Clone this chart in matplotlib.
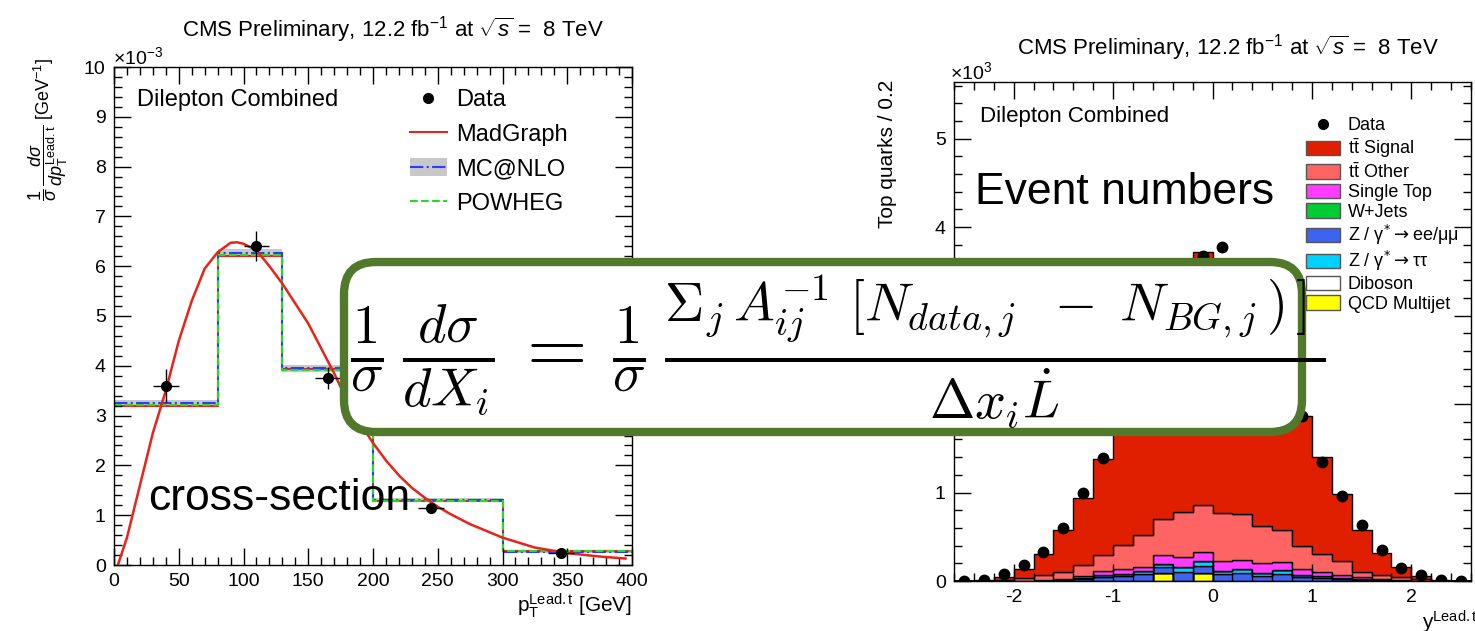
import numpy as np
import matplotlib
matplotlib.use('Agg')
import matplotlib.pyplot as plt
from matplotlib.patches import FancyBboxPatch, Patch
from matplotlib.lines import Line2D
from matplotlib.ticker import MultipleLocator

plt.rcParams['font.family'] = ['Liberation Sans', 'DejaVu Sans']
plt.rcParams['mathtext.fontset'] = 'custom'
plt.rcParams['mathtext.rm'] = 'Liberation Sans'
plt.rcParams['mathtext.it'] = 'Liberation Sans:italic'
plt.rcParams['mathtext.bf'] = 'Liberation Sans:bold'
plt.rcParams['axes.unicode_minus'] = False

# ---------------- left panel data (x 1e-3) ----------------
pt_edges = [0, 80, 130, 200, 300, 400]
madgraph_hist = [3.20, 6.20, 3.93, 1.28, 0.28]
mcatnlo_hist = [3.25, 6.27, 3.95, 1.30, 0.27]
powheg_hist = [3.22, 6.22, 3.92, 1.29, 0.29]
mcatnlo_unc = [0.07, 0.08, 0.07, 0.04, 0.02]
data_pt_x = [40, 110, 165, 245, 345]
data_pt_y = [3.60, 6.40, 3.75, 1.15, 0.25]
data_pt_yerr = [0.33, 0.30, 0.22, 0.08, 0.05]
data_pt_xerr = [10, 10, 10, 10, 10]
mg_curve_x = [3, 10, 20, 30, 40, 50, 60, 70, 80, 90, 95, 100, 110, 120, 130, 140, 150,
              160, 170, 180, 190, 200, 210, 220, 230, 240, 250, 260, 275, 300, 325, 350, 375, 395]
mg_curve_y = [0.0, 0.55, 1.6, 2.65, 3.5, 4.5, 5.3, 5.95, 6.28, 6.47, 6.48, 6.45, 6.32, 6.0, 5.65,
              5.25, 4.85, 4.35, 3.85, 3.3, 2.85, 2.45, 2.1, 1.8, 1.55, 1.35, 1.17, 1.02, 0.82,
              0.55, 0.35, 0.24, 0.17, 0.13]

# ---------------- right panel data (x 1e3) ----------------
y_edges = [-2.6, -2.4, -2.2, -2.0, -1.8, -1.6, -1.4, -1.2, -1.0, -0.8, -0.6, -0.4, -0.2, 0.0,
           0.2, 0.4, 0.6, 0.8, 1.0, 1.2, 1.4, 1.6, 1.8, 2.0, 2.2, 2.4, 2.6]
qcd = [0, 0, 0, 0, 0, 0, 0, 0, 0, 0, 0.09, 0, 0.09, 0, 0, 0, 0, 0, 0, 0, 0, 0, 0, 0, 0, 0]
diboson = [0, 0, 0, 0, 0, 0.001, 0.002, 0.003, 0.004, 0.004, 0.004, 0.005, 0.005, 0.005,
           0.005, 0.004, 0.004, 0.004, 0.003, 0.002, 0.001, 0, 0, 0, 0, 0]
z_eemumu = [0, 0, 0, 0.002, 0.004, 0.01, 0.02, 0.04, 0.05, 0.07, 0.06, 0.10, 0.08, 0.07,
            0.08, 0.055, 0.075, 0.045, 0.035, 0.025, 0.012, 0.006, 0.003, 0, 0, 0]
z_tautau = [0, 0, 0, 0.001, 0.002, 0.005, 0.01, 0.02, 0.025, 0.035, 0.04, 0.05, 0.05, 0.035,
            0.045, 0.03, 0.04, 0.02, 0.015, 0.01, 0.006, 0.003, 0.001, 0, 0, 0]
wjets = [0, 0, 0, 0, 0, 0, 0.001, 0.002, 0.002, 0.002, 0.002, 0.003, 0.003, 0.003, 0.003,
         0.002, 0.002, 0.002, 0.002, 0.001, 0, 0, 0, 0, 0, 0]
single_top = [0, 0, 0, 0.002, 0.004, 0.006, 0.022, 0.045, 0.06, 0.05, 0.095, 0.11, 0.10,
              0.11, 0.11, 0.11, 0.09, 0.06, 0.042, 0.033, 0.021, 0.011, 0.006, 0, 0, 0]
tt_other = [0, 0.005, 0.012, 0.025, 0.06, 0.085, 0.125, 0.18, 0.27, 0.362, 0.41, 0.51, 0.53,
            0.545, 0.515, 0.42, 0.36, 0.26, 0.205, 0.15, 0.065, 0.05, 0.035, 0.02, 0.005, 0]
tt_signal = [0, 0.005, 0.028, 0.11, 0.24, 0.47, 0.76, 1.09, 1.45, 1.88, 2.25, 2.60, 2.86,
             2.83, 2.62, 2.33, 1.85, 1.47, 1.10, 0.76, 0.475, 0.25, 0.115, 0.04, 0.005, 0]
data_y = [0.0, 0.01, 0.075, 0.18, 0.33, 0.60, 0.99, 1.385, 1.85, 2.40, 2.95, 3.40, 3.67,
          3.78, 3.40, 2.95, 2.45, 1.87, 1.34, 0.96, 0.63, 0.35, 0.15, 0.07, 0.01, 0.0]

# stacking order, bottom -> top
stack = [
    ("QCD Multijet", qcd, '#FFFF00'),
    ("Diboson", diboson, '#FFFFFF'),
    (r"Z / γ$^{*}$$\rightarrow$ee/μμ", z_eemumu, '#3C64F0'),
    (r"Z / γ$^{*}$$\rightarrow$ττ", z_tautau, '#00D2FF'),
    ("W+Jets", wjets, '#00CC33'),
    ("Single Top", single_top, '#FF3CFF'),
    (r"t$\bar{\rm t}$ Other", tt_other, '#FF6464'),
    (r"t$\bar{\rm t}$ Signal", tt_signal, '#E01E00'),
]
legend_order = [7, 6, 5, 4, 2, 3, 1, 0]

W, H = 1475, 631
fig = plt.figure(figsize=(W / 100, H / 100), dpi=100)


def fx(px):
    return px / W


def fy(py):
    return (H - py) / H


def style_axis(ax, xmaj, xmin, ymaj, ymin, lsize):
    ax.xaxis.set_major_locator(MultipleLocator(xmaj))
    ax.xaxis.set_minor_locator(MultipleLocator(xmin))
    ax.yaxis.set_major_locator(MultipleLocator(ymaj))
    ax.yaxis.set_minor_locator(MultipleLocator(ymin))
    ax.tick_params(which='both', direction='in', top=True, right=True, width=1)
    ax.tick_params(which='major', length=12, labelsize=lsize, pad=6)
    ax.tick_params(which='minor', length=6)
    for s in ax.spines.values():
        s.set_linewidth(1)


# ---------------- left panel ----------------
ax1 = fig.add_axes([fx(114), fy(565), fx(632 - 114), (565 - 67) / H])
lo = [v - u for v, u in zip(mcatnlo_hist, mcatnlo_unc)]
hi = [v + u for v, u in zip(mcatnlo_hist, mcatnlo_unc)]
ax1.stairs(hi, pt_edges, baseline=lo, fill=True, color='#c8c8c8', lw=0)
ax1.stairs(madgraph_hist, pt_edges, baseline=None, color='#e8231a', lw=1.5)
ax1.stairs(mcatnlo_hist, pt_edges, baseline=None, color='#2a3cff', lw=1.5, ls='-.')
ax1.stairs(powheg_hist, pt_edges, baseline=None, color='#22dd22', lw=1.5, ls='--')
ax1.plot(mg_curve_x, mg_curve_y, color='#e8231a', lw=1.8)
ax1.errorbar(data_pt_x, data_pt_y, xerr=data_pt_xerr, yerr=data_pt_yerr, fmt='o',
             color='black', ms=7, elinewidth=1.0, capsize=0)
ax1.set_xlim(0, 400)
ax1.set_ylim(0, 10)
style_axis(ax1, 50, 10, 1, 0.2, 14)
ax1.text(0.044, 0.934, "Dilepton Combined", transform=ax1.transAxes, fontsize=17,
         va='center', ha='left')
h_data = Line2D([], [], marker='o', color='black', ls='none', ms=7)
h_mg = Line2D([], [], color='#e8231a', lw=1.5)
h_mc = (Patch(facecolor='#c8c8c8', edgecolor='none'),
        Line2D([], [], color='#2a3cff', lw=1.5, ls='-.'))
h_pw = Line2D([], [], color='#22dd22', lw=1.5, ls='--')
ax1.legend([h_data, h_mg, h_mc, h_pw], ["Data", "MadGraph", "MC@NLO", "POWHEG"],
           loc='upper left', bbox_to_anchor=(fx(410), fy(89)), bbox_transform=fig.transFigure,
           frameon=False, fontsize=17, handlelength=1.55, handletextpad=0.42,
           handleheight=0.8, labelspacing=0.52, borderpad=0, borderaxespad=0)

fig.text(fx(393), fy(30), r"CMS Preliminary, 12.2 fb$^{-1}$ at $\sqrt{s}$ =  8 TeV",
         fontsize=16, ha='center', va='center')
fig.text(fx(113), fy(57), r"$\times$10$^{-3}$", fontsize=14, ha='left', va='center')
fig.text(fx(48), fy(58),
         r"$\dfrac{1}{\sigma}\,\dfrac{d\sigma}{dp_{\rm T}^{\rm Lead.t}}$ [GeV$^{-1}$]",
         rotation=90, fontsize=13, ha='center', va='top')
fig.text(fx(632), fy(606), r"p$_{\rm T}^{\rm Lead.t}$ [GeV]", fontsize=15,
         ha='right', va='center')

# ---------------- right panel ----------------
ax2 = fig.add_axes([fx(954), fy(581), fx(1471 - 954), (581 - 82) / H])
base = np.zeros(len(y_edges) - 1)
patches = []
for label, vals, col in stack:
    top = base + np.array(vals)
    ax2.stairs(top, y_edges, baseline=base.copy(), fill=True, facecolor=col,
               edgecolor='black', lw=1.0)
    patches.append(Patch(facecolor=col, edgecolor='#555555', lw=1))
    base = top
centers = [(a + b) / 2 for a, b in zip(y_edges[:-1], y_edges[1:])]
ax2.plot(centers, data_y, 'o', color='black', ms=7.5, zorder=5)
ax2.set_xlim(-2.6, 2.6)
ax2.set_ylim(0, 5.64)
style_axis(ax2, 1, 0.2, 1, 0.2, 14)
ax2.text(0.05, 0.93, "Dilepton Combined", transform=ax2.transAxes, fontsize=16,
         va='center', ha='left')
leg_handles = [Line2D([], [], marker='o', color='black', ls='none', ms=7)]
leg_labels = ["Data"]
for i in legend_order:
    leg_handles.append(patches[i])
    leg_labels.append(stack[i][0])
leg2 = ax2.legend(leg_handles, leg_labels, loc='upper left',
                  bbox_to_anchor=(fx(1306), fy(117)),
                  bbox_transform=fig.transFigure, frameon=False, fontsize=13,
                  handlelength=1.9, handleheight=0.85, handletextpad=0.4,
                  labelspacing=0.12, borderpad=0, borderaxespad=0)
for t in leg2.get_texts():
    if 'rightarrow' in t.get_text():
        t.set_math_fontfamily('dejavusans')
fig.text(fx(1228), fy(48), r"CMS Preliminary, 12.2 fb$^{-1}$ at $\sqrt{s}$ =  8 TeV",
         fontsize=16, ha='center', va='center')
fig.text(fx(950), fy(72), r"$\times$10$^{3}$", fontsize=14, ha='left', va='center')
fig.text(fx(888), fy(80), "Top quarks / 0.2", rotation=90, fontsize=15, ha='center',
         va='top')
fig.text(fx(1422), fy(622), r"y$^{\rm Lead.t}$", fontsize=15, ha='left', va='center')

# ---------------- overlays ----------------
box = FancyBboxPatch((3.44, (H - 432) / 100), 13.02 - 3.44, (432 - 262) / 100,
                     boxstyle='round,pad=0,rounding_size=0.32',
                     transform=fig.dpi_scale_trans, facecolor='white',
                     edgecolor='#52792B', lw=6, zorder=10)
fig.add_artist(box)
eq = (r"$\frac{1}{\sigma}\,\frac{d\sigma}{dX_i}\, = \,\frac{1}{\sigma}\,"
      r"\frac{\Sigma_j\, A^{-1}_{ij}\ [N_{data,j}\;\;-\;N_{BG,j}\,)\,]\;}"
      r"{\Delta x_i \dot{L}}$")
fig.text(fx(350), fy(352), eq, math_fontfamily='cm', fontsize=56, ha='left',
         va='center', zorder=11)
fig.text(fx(148), fy(498), "cross-section", fontsize=32, ha='left', va='center', zorder=11)
fig.text(fx(975), fy(193), "Event numbers", fontsize=32, ha='left', va='center', zorder=11)

fig.savefig('out.png', dpi=100)
